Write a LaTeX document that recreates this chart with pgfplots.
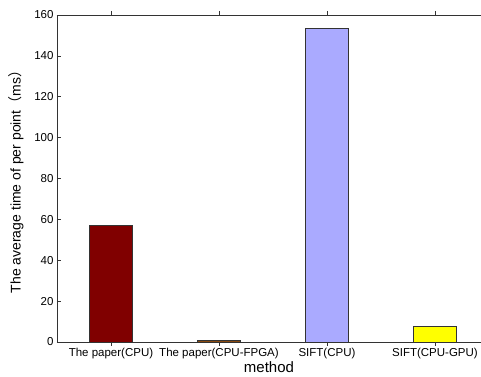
\documentclass[border=0pt]{standalone}
\usepackage{fontspec}
\setmainfont{Liberation Sans}
\newfontfamily\cjk{Noto Sans CJK SC}
\usepackage{pgfplots}
\pgfplotsset{compat=1.18}
\usetikzlibrary{calc}
\definecolor{b1}{HTML}{800000}
\definecolor{b2}{HTML}{8A4A10}
\definecolor{b3}{HTML}{AAAAFF}
\definecolor{b4}{HTML}{FFFF00}
\definecolor{edge}{HTML}{333333}
\begin{document}
\begin{tikzpicture}
\begin{axis}[name=ax,
  scale only axis,
  width=424pt, height=327pt,
  xmin=0.5, xmax=4.426,
  ymin=0, ymax=160,
  ytick={0,20,...,160},
  xtick={1,2,3,4},
  xticklabels={The paper(CPU),The paper(CPU-FPGA),SIFT(CPU),SIFT(CPU-GPU)},
  axis y line*=left,
  axis x line*=box,
  tick align=inside,
  x tick style={color=edge, line width=0.6pt},
  y tick style={color=edge, line width=0.6pt},
  xtick pos=both,
  major tick length=4pt,
  axis line style={color=edge, line width=0.8pt},
  /pgf/number format/assume math mode=true,
  ticklabel style={font=\fontsize{11.5}{13}\selectfont, color=black},
  xticklabel style={yshift=1pt},
  xlabel={method}, ylabel={The average time of per point{\cjk （}ms{\cjk ）}},
  xlabel style={font=\fontsize{15}{17}\selectfont, yshift=4pt},
  ylabel style={font=\fontsize{14}{16}\selectfont, yshift=4pt},
  ybar, bar width=43pt, bar shift=0pt,
  clip=false,
]
\addplot[fill=b1, draw=edge, line width=0.7pt] coordinates {(1,57.2)};
\addplot[fill=b2, draw=edge, line width=0.7pt] coordinates {(2,1.0)};
\addplot[fill=b3, draw=edge, line width=0.7pt] coordinates {(3,153.5)};
\addplot[fill=b4, draw=edge, line width=0.7pt] coordinates {(4,7.7)};
\end{axis}
\pgfresetboundingbox
\path ($(ax.south west)+(-57pt,-35pt)$) rectangle ($(ax.north east)+(0pt,15pt)$);
\end{tikzpicture}
\end{document}
